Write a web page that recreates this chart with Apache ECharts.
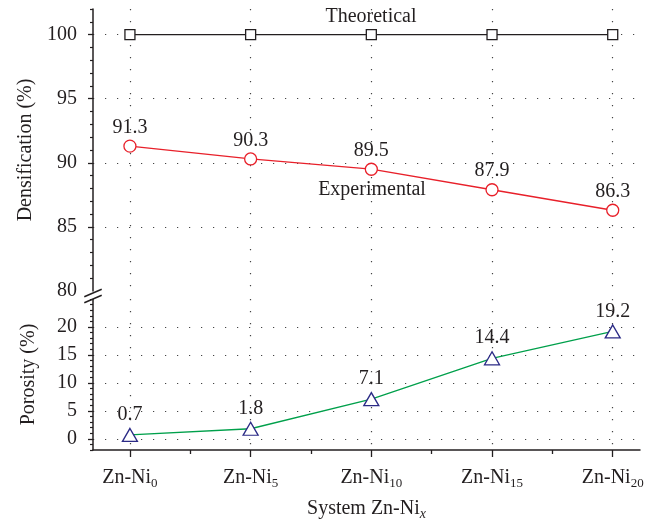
<!DOCTYPE html>
<html>
<head>
<meta charset="utf-8">
<script src="https://cdn.jsdelivr.net/npm/echarts@6/dist/echarts.min.js"></script>
<style>html,body{margin:0;padding:0;background:#fff}#c{width:658px;height:524px}</style>
</head>
<body>
<div id="c"></div>
<script>
// ---- data ----
const xValues = [0, 5, 10, 15, 20];
const xSubscripts = ['0', '5', '10', '15', '20'];
const theoretical = [100, 100, 100, 100, 100];
const experimental = [91.3, 90.3, 89.5, 87.9, 86.3];
const porosity = [0.7, 1.8, 7.1, 14.4, 19.2];
const topYLabels = [80, 85, 90, 95, 100];
const topYGrid = [85, 90, 95, 100];
const bottomYLabels = [0, 5, 10, 15, 20];
const xMinorTicks = [2.5, 7.5, 12.5, 17.5];

const INK = '#231f20';
const FONT = 'Liberation Serif';
function range(a, b) { const r = []; for (let i = a; i <= b; i++) r.push(i); return r; }
const topMinor = range(80, 102).filter(v => topYLabels.indexOf(v) < 0);
const botMinor = range(-2, 25).filter(v => bottomYLabels.indexOf(v) < 0);

const dotted = { show: true, lineStyle: { color: '#444', width: 1.2, type: [1.2, 10.8] } };
const X_MIN = -1.53, X_MAX = 21.13;

const chart = echarts.init(document.getElementById('c'), null, { renderer: 'canvas' });
const option = {
  animation: false,
  textStyle: { fontFamily: FONT, color: INK },
  grid: [
    { left: 93, right: 18, top: 9, height: 282 },
    { left: 93, right: 18, top: 299, height: 151 }
  ],
  xAxis: [
    { gridIndex: 0, type: 'value', min: X_MIN, max: X_MAX,
      axisLine: { show: false, onZero: false },
      axisTick: { show: false, customValues: xValues },
      axisLabel: { show: false },
      splitLine: dotted },
    { gridIndex: 1, type: 'value', min: X_MIN, max: X_MAX, position: 'bottom',
      axisLine: { show: true, onZero: false, lineStyle: { color: INK, width: 1.5 } },
      axisTick: { show: true, customValues: xValues, length: 7, lineStyle: { color: INK, width: 1.3 } },
      axisLabel: {
        show: true, customValues: xValues, margin: 15,
        formatter: v => '{a|Zn-Ni}{s|' + xSubscripts[xValues.indexOf(v)] + '}',
        rich: {
          a: { fontSize: 20, fontFamily: FONT, color: INK, lineHeight: 26 },
          s: { fontSize: 13, fontFamily: FONT, color: INK, lineHeight: 14, padding: [12, 0, 0, 0] }
        }
      },
      splitLine: dotted,
      name: '{a|System Zn-Ni}{s|x}', nameLocation: 'middle', nameGap: 46,
      nameTextStyle: {
        rich: {
          a: { fontSize: 20, fontFamily: FONT, color: INK, lineHeight: 26 },
          s: { fontSize: 14, fontStyle: 'italic', fontFamily: FONT, color: INK, lineHeight: 14, padding: [10, 0, 0, 0] }
        }
      } },
    { gridIndex: 1, type: 'value', min: X_MIN, max: X_MAX, position: 'bottom',
      axisLine: { show: false, onZero: false },
      axisTick: { show: true, customValues: xMinorTicks, length: 4, lineStyle: { color: INK, width: 1.3 } },
      axisLabel: { show: false },
      splitLine: { show: false } }
  ],
  yAxis: [
    { gridIndex: 0, type: 'value', min: 80, max: 102, position: 'left',
      axisLine: { show: true, onZero: false, lineStyle: { color: INK, width: 1.5 } },
      axisTick: { show: true, customValues: topYGrid, length: 5, lineStyle: { color: INK, width: 1.3 } },
      axisLabel: { show: true, customValues: topYLabels, margin: 16, fontSize: 20, fontFamily: FONT, color: INK },
      splitLine: dotted,
      name: 'Densification (%)', nameLocation: 'middle', nameGap: 54, nameRotate: 90,
      nameTextStyle: { fontSize: 20, fontFamily: FONT, color: INK } },
    { gridIndex: 0, type: 'value', min: 80, max: 102, position: 'left',
      axisLine: { show: false, onZero: false },
      axisTick: { show: true, customValues: topMinor, length: 3, lineStyle: { color: INK, width: 1.2 } },
      axisLabel: { show: false }, splitLine: { show: false } },
    { gridIndex: 1, type: 'value', min: -2, max: 25, position: 'left',
      axisLine: { show: true, onZero: false, lineStyle: { color: INK, width: 1.5 } },
      axisTick: { show: true, customValues: bottomYLabels, length: 5, lineStyle: { color: INK, width: 1.3 } },
      axisLabel: { show: true, customValues: bottomYLabels, margin: 16, fontSize: 20, fontFamily: FONT, color: INK },
      splitLine: dotted,
      name: 'Porosity (%)', nameLocation: 'middle', nameGap: 54, nameRotate: 90,
      nameTextStyle: { fontSize: 20, fontFamily: FONT, color: INK } },
    { gridIndex: 1, type: 'value', min: -2, max: 25, position: 'left',
      axisLine: { show: false, onZero: false },
      axisTick: { show: true, customValues: botMinor, length: 3, lineStyle: { color: INK, width: 1.2 } },
      axisLabel: { show: false }, splitLine: { show: false } }
  ],
  series: [
    { name: 'Theoretical', type: 'line', xAxisIndex: 0, yAxisIndex: 0,
      data: xValues.map((x, i) => [x, theoretical[i]]),
      symbol: 'rect', symbolSize: 10,
      itemStyle: { color: '#fff', borderColor: INK, borderWidth: 1.3 },
      lineStyle: { color: INK, width: 1.1 },
      label: { show: false } },
    { name: 'Experimental', type: 'line', xAxisIndex: 0, yAxisIndex: 0,
      data: xValues.map((x, i) => [x, experimental[i]]),
      symbol: 'circle', symbolSize: 12,
      itemStyle: { color: '#fff', borderColor: '#e8202a', borderWidth: 1.3 },
      lineStyle: { color: '#e8202a', width: 1.3 },
      label: { show: true, position: 'top', distance: 2, fontSize: 20, fontFamily: FONT, color: INK,
               formatter: p => p.value[1].toFixed(1) } },
    { name: 'Porosity', type: 'line', xAxisIndex: 1, yAxisIndex: 2,
      data: xValues.map((x, i) => [x, porosity[i]]),
      symbol: 'triangle', symbolSize: [15, 13],
      itemStyle: { color: '#fff', borderColor: '#2b2a86', borderWidth: 1.3 },
      lineStyle: { color: '#00a04b', width: 1.3 },
      label: { show: true, position: 'top', distance: 3, fontSize: 20, fontFamily: FONT, color: INK,
               formatter: p => p.value[1].toFixed(1) } }
  ],
  graphic: [
    { type: 'text', style: { text: 'Theoretical', x: 371, y: 17, align: 'center', verticalAlign: 'middle', fontSize: 20, fontFamily: FONT, fill: INK } },
    { type: 'text', style: { text: 'Experimental', x: 372, y: 190, align: 'center', verticalAlign: 'middle', fontSize: 20, fontFamily: FONT, fill: INK } },
    { type: 'rect', shape: { x: 88, y: 292, width: 10, height: 7 }, style: { fill: '#fff' }, z: 100 },
    { type: 'line', shape: { x1: 84.3, y1: 296.7, x2: 101.7, y2: 289.3 }, style: { stroke: INK, lineWidth: 1.5 }, z: 101 },
    { type: 'line', shape: { x1: 84.3, y1: 302.7, x2: 101.7, y2: 295.3 }, style: { stroke: INK, lineWidth: 1.5 }, z: 101 }
  ]
};
chart.setOption(option);
</script>
</body>
</html>
